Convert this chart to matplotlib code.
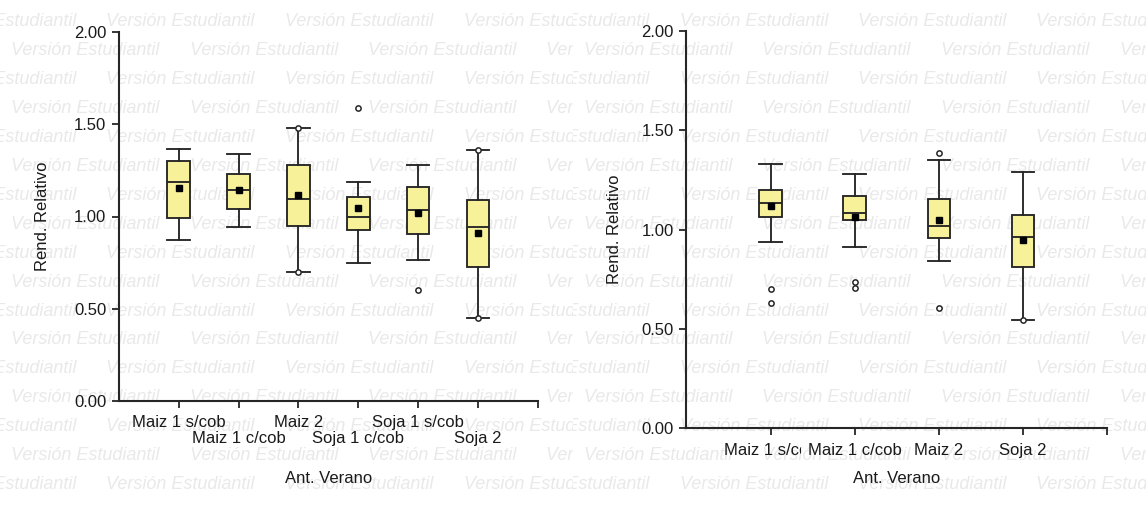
import matplotlib
matplotlib.use("Agg")
import matplotlib.pyplot as plt
from matplotlib.ticker import FormatStrFormatter, FixedLocator
from matplotlib.transforms import IdentityTransform, Bbox

plt.rcParams['font.family'] = ['Liberation Sans', 'DejaVu Sans']

# ---------------- data ----------------
left_categories = ["Maiz 1 s/cob", "Maiz 1 c/cob", "Maiz 2", "Soja 1 c/cob", "Soja 1 s/cob", "Soja 2"]
left_whislo = [0.873, 0.941, 0.701, 0.746, 0.764, 0.448]
left_q1     = [0.992, 1.041, 0.950, 0.925, 0.903, 0.725]
left_med    = [1.185, 1.142, 1.097, 0.997, 1.033, 0.943]
left_q3     = [1.300, 1.232, 1.277, 1.104, 1.158, 1.088]
left_whishi = [1.366, 1.339, 1.478, 1.185, 1.277, 1.359]
left_mean   = [1.153, 1.145, 1.118, 1.046, 1.017, 0.909]
left_fliers = [[], [], [0.701, 1.478], [1.590], [0.603], [0.448, 1.359]]

right_categories = ["Maiz 1 s/cob", "Maiz 1 c/cob", "Maiz 2", "Soja 2"]
right_whislo = [0.938, 0.913, 0.841, 0.545]
right_q1     = [1.062, 1.047, 0.955, 0.812]
right_med    = [1.133, 1.083, 1.020, 0.963]
right_q3     = [1.198, 1.171, 1.155, 1.071]
right_whishi = [1.331, 1.282, 1.349, 1.291]
right_mean   = [1.118, 1.062, 1.050, 0.945]
right_fliers = [[0.698, 0.631], [0.733, 0.703], [1.386, 0.607], [0.545]]

y_ticks = [0.0, 0.5, 1.0, 1.5, 2.0]
y_label = "Rend. Relativo"
x_label = "Ant. Verano"
watermark = "Versión Estudiantil"

# ---------------- style ----------------
W, H = 1146, 508
DARK = '#262626'
FILL = '#f7f29a'
WM = '#e9e9e9'
FS = 12

fig = plt.figure(figsize=(W / 100, H / 100), dpi=100)
fig.patch.set_facecolor('white')

# watermark pattern (background), clipped to each half
for half in (0, 1):
    x0 = half * 573
    clip = Bbox.from_extents(x0, 0, x0 + 573, H)
    for k in range(17):
        yy = 22 + 28.9 * k
        start = -72 if k % 2 == 0 else 11
        for j in range(5):
            xx = x0 + start + 178.5 * j
            t = fig.text(xx, H - yy, watermark, transform=IdentityTransform(),
                         fontsize=13, style='italic', color=WM, ha='left',
                         va='center', zorder=-5)
            t.set_clip_on(True)
            t.set_clip_box(clip)


def make_stats(whislo, q1, med, q3, whishi, mean, fliers):
    return [dict(whislo=a, q1=b, med=c, q3=d, whishi=e, mean=f, fliers=g)
            for a, b, c, d, e, f, g in zip(whislo, q1, med, q3, whishi, mean, fliers)]


def draw_panel(rect, stats, labels, width, stagger, xlabel_y, ylabel_x, tickpad):
    ax = fig.add_axes(rect)
    ax.set_zorder(2)
    ax.patch.set_alpha(0)
    n = len(stats)
    pos = list(range(1, n + 1))
    lp = dict(color=DARK, linewidth=1.35, linestyle='-')
    ax.bxp(stats, positions=pos, widths=width, capwidths=width,
           patch_artist=True, showmeans=True, showfliers=True,
           boxprops=dict(facecolor=FILL, edgecolor=DARK, linewidth=1.35),
           medianprops=lp, whiskerprops=lp, capprops=lp,
           meanprops=dict(marker='s', markerfacecolor='black', markeredgecolor='black',
                          markersize=4.5),
           flierprops=dict(marker='o', markerfacecolor='white', markeredgecolor=DARK,
                           markersize=3.8, markeredgewidth=1.1),
           manage_ticks=False, zorder=3)
    ax.set_xlim(0, n + 1)
    ax.set_ylim(0, 2)
    for s in ('top', 'right'):
        ax.spines[s].set_visible(False)
    for s in ('left', 'bottom'):
        ax.spines[s].set_color(DARK)
        ax.spines[s].set_linewidth(1.5)
    ax.set_yticks(y_ticks)
    ax.yaxis.set_major_formatter(FormatStrFormatter('%.2f'))
    if stagger:
        tl = [lab if i % 2 == 0 else "\n" + lab for i, lab in enumerate(labels)]
    else:
        tl = labels
    ax.set_xticks(pos)
    ax.set_xticklabels(tl, linespacing=1.1)
    ax.xaxis.set_minor_locator(FixedLocator([n + 1]))
    ax.tick_params(axis='both', which='both', direction='out', length=5, width=1.3,
                   color=DARK, labelsize=FS, labelcolor='#1a1a1a')
    ax.tick_params(axis='x', pad=tickpad)
    ax.tick_params(axis='y', pad=4)
    ax.set_ylabel(y_label, fontsize=FS, color='#1a1a1a')
    ax.yaxis.set_label_coords(ylabel_x, 0.5)
    ax.set_xlabel(x_label, fontsize=FS, color='#1a1a1a', va='top')
    ax.xaxis.set_label_coords(0.5, xlabel_y)
    return ax


axL = draw_panel([118.8 / W, 1 - 401 / H, 419 / W, 369 / H],
                 make_stats(left_whislo, left_q1, left_med, left_q3, left_whishi, left_mean, left_fliers),
                 left_categories, 0.38, True, -0.19, -0.165, 5)

axR = draw_panel([686.3 / W, 1 - 428 / H, 421 / W, 397 / H],
                 make_stats(right_whislo, right_q1, right_med, right_q3, right_whishi, right_mean, right_fliers),
                 right_categories, 0.27, False, -0.108, -0.152, 6)

# first label of the right panel is cut where the next one starts
lab0 = axR.get_xticklabels()[0]
lab0.set_clip_on(True)
lab0.set_clip_box(Bbox.from_extents(0, 0, 801, H))

fig.savefig("out.png", dpi=100, facecolor='white')
